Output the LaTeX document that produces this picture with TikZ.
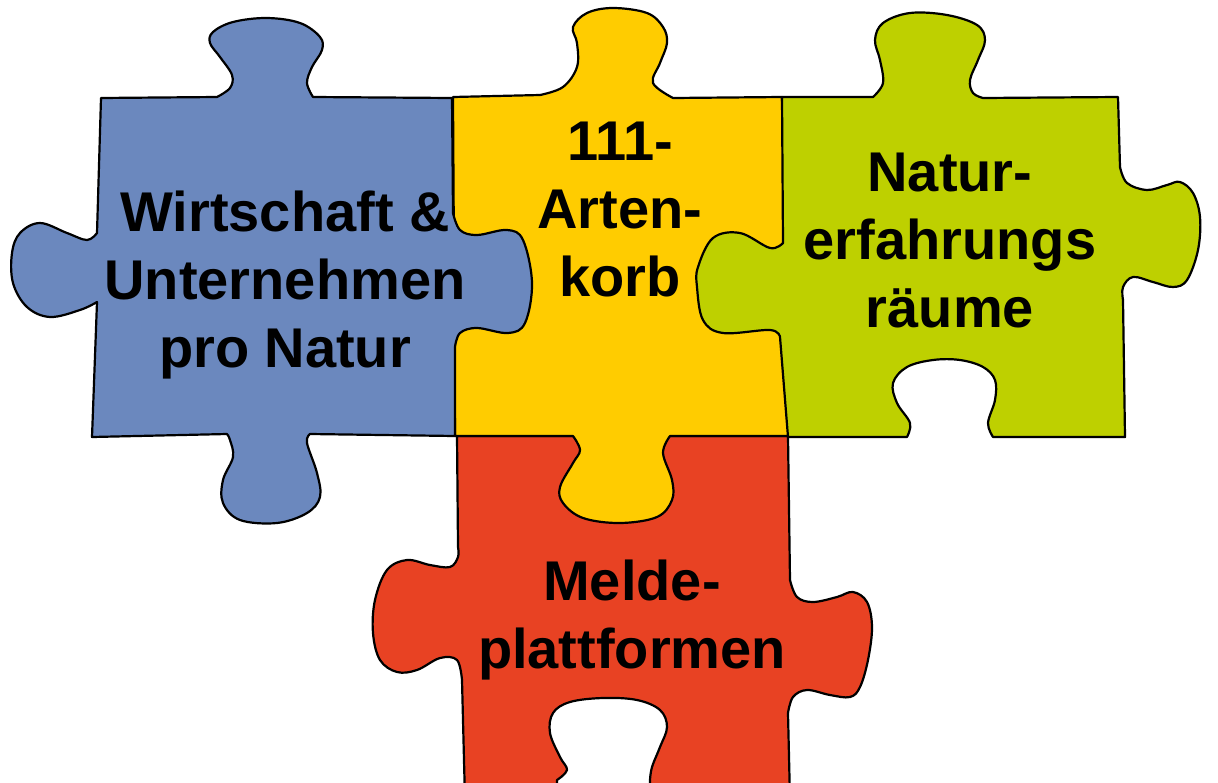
\documentclass[tikz,border=0pt]{standalone}
\usepackage{fontspec}
\setmainfont{Liberation Sans}
\usetikzlibrary{positioning}

\begin{document}
\begin{tikzpicture}[x=1pt, y=-1pt,
    piece/.style={draw=black, line width=2.2pt, line join=round},
    edge/.style={smooth, tension=0.6},
    piecetext/.style={font=\bfseries\fontsize{56}{68}\selectfont, align=center, inner sep=0pt},
  ]

    % Colors
    \definecolor{puzzleblue}{RGB}{107,136,190}
    \definecolor{puzzleyellow}{RGB}{255,204,0}
    \definecolor{puzzlegreen}{RGB}{190,208,0}
    \definecolor{puzzlered}{RGB}{232,66,35}

    \useasboundingbox (0,0) rectangle (1218,782);
    \clip (0,0) rectangle (1218,782);

    %draw the bottom piece
    \filldraw[piece, fill=puzzlered] (457,436) -- (788,436) -- (790,580)
      -- plot[edge] coordinates {(790,580) (797,597) (813,602) (837,597) (853,592) (867,602) (872,627) (868,660) (860,687) (850,697) (830,695) (807,690) (793,697) (788,713)}
      -- (790,800) -- (650,800)
      -- plot[edge] coordinates {(650,780) (652,767) (660,747) (667,727) (660,710) (637,700) (603,698) (570,702) (553,713) (550,733) (560,757) (567,770) (557,780)}
      -- (557,800) -- (465,800) -- (462,680)
      -- plot[edge] coordinates {(462,680) (457,660) (440,658) (417,670) (397,672) (380,660) (373,633) (375,600) (387,570) (407,560) (430,565) (450,567) (458,557) (458,547)}
      -- cycle;

    %draw the middle piece
    \filldraw[piece, fill=puzzleyellow] (453,97)
      -- plot[edge] coordinates {(540,95) (563,87) (577,67) (577,43) (573,27) (587,13) (613,8) (647,13) (663,27) (667,43) (660,63) (653,83) (673,98)}
      -- (782,97) -- (789,436)
      -- plot[edge] coordinates {(670,436) (663,453) (672,480) (672,500) (657,517) (620,523) (583,518) (563,503) (560,487) (573,463) (580,450) (573,436)}
      -- (455,436) -- cycle;

    %draw the left piece
    \filldraw[piece, fill=puzzleblue] (101,98)
      -- plot[edge] coordinates {(217,97) (230,88) (232,75) (220,57) (210,43) (213,32) (233,22) (267,18) (300,23) (320,37) (322,50) (312,67) (307,83) (313,97)}
      -- (452,98)
      -- plot[edge] coordinates {(453,213) (460,230) (477,235) (507,230) (523,240) (532,283) (525,323) (508,333) (477,328) (460,333) (455,347)}
      -- (455,436)
      -- plot[edge] coordinates {(310,434) (307,443) (317,473) (320,497) (307,513) (277,523) (240,520) (223,503) (223,480) (233,457) (230,440) (227,434)}
      -- (92,437)
      -- plot[edge] coordinates {(97,302) (80,310) (50,317) (27,307) (13,283) (12,253) (20,233) (40,223) (67,233) (87,240) (97,233)}
      -- cycle;

    %draw the right piece
    \filldraw[piece, fill=puzzlegreen] (782,97)
      -- plot[edge] coordinates {(873,97) (883,83) (880,60) (875,40) (883,23) (910,13) (947,15) (977,25) (985,40) (978,60) (970,80) (973,93) (983,98)}
      -- (1118,97)
      -- plot[edge] coordinates {(1120,167) (1127,183) (1147,190) (1167,185) (1180,182) (1193,193) (1200,217) (1198,250) (1187,280) (1173,287) (1153,282) (1133,277) (1123,287) (1123,300)}
      -- (1125,437)
      -- plot[edge] coordinates {(993,437) (988,423) (995,400) (995,380) (983,367) (960,360) (933,360) (907,367) (893,383) (897,403) (910,423) (907,437)}
      -- (788,437) -- (780,337)
      -- plot[edge] coordinates {(780,337) (770,330) (723,333) (703,320) (697,287) (698,267) (713,238) (740,233) (770,248) (783,243)}
      -- cycle;

    %add the text
    \node[piecetext] (wirtschaft) at (285,285) {Wirtschaft \&\\Unternehmen\\pro Natur};
    \node[piecetext] (artenkorb) at (620,210) {111-\\Arten-\\korb};
    \node[piecetext] (naturraum) at (950,241) {Natur-\\erfahrungs\\räume};
    \node[piecetext] (melde) at (632,620) {Melde-\\plattformen};

\end{tikzpicture}
\end{document}
